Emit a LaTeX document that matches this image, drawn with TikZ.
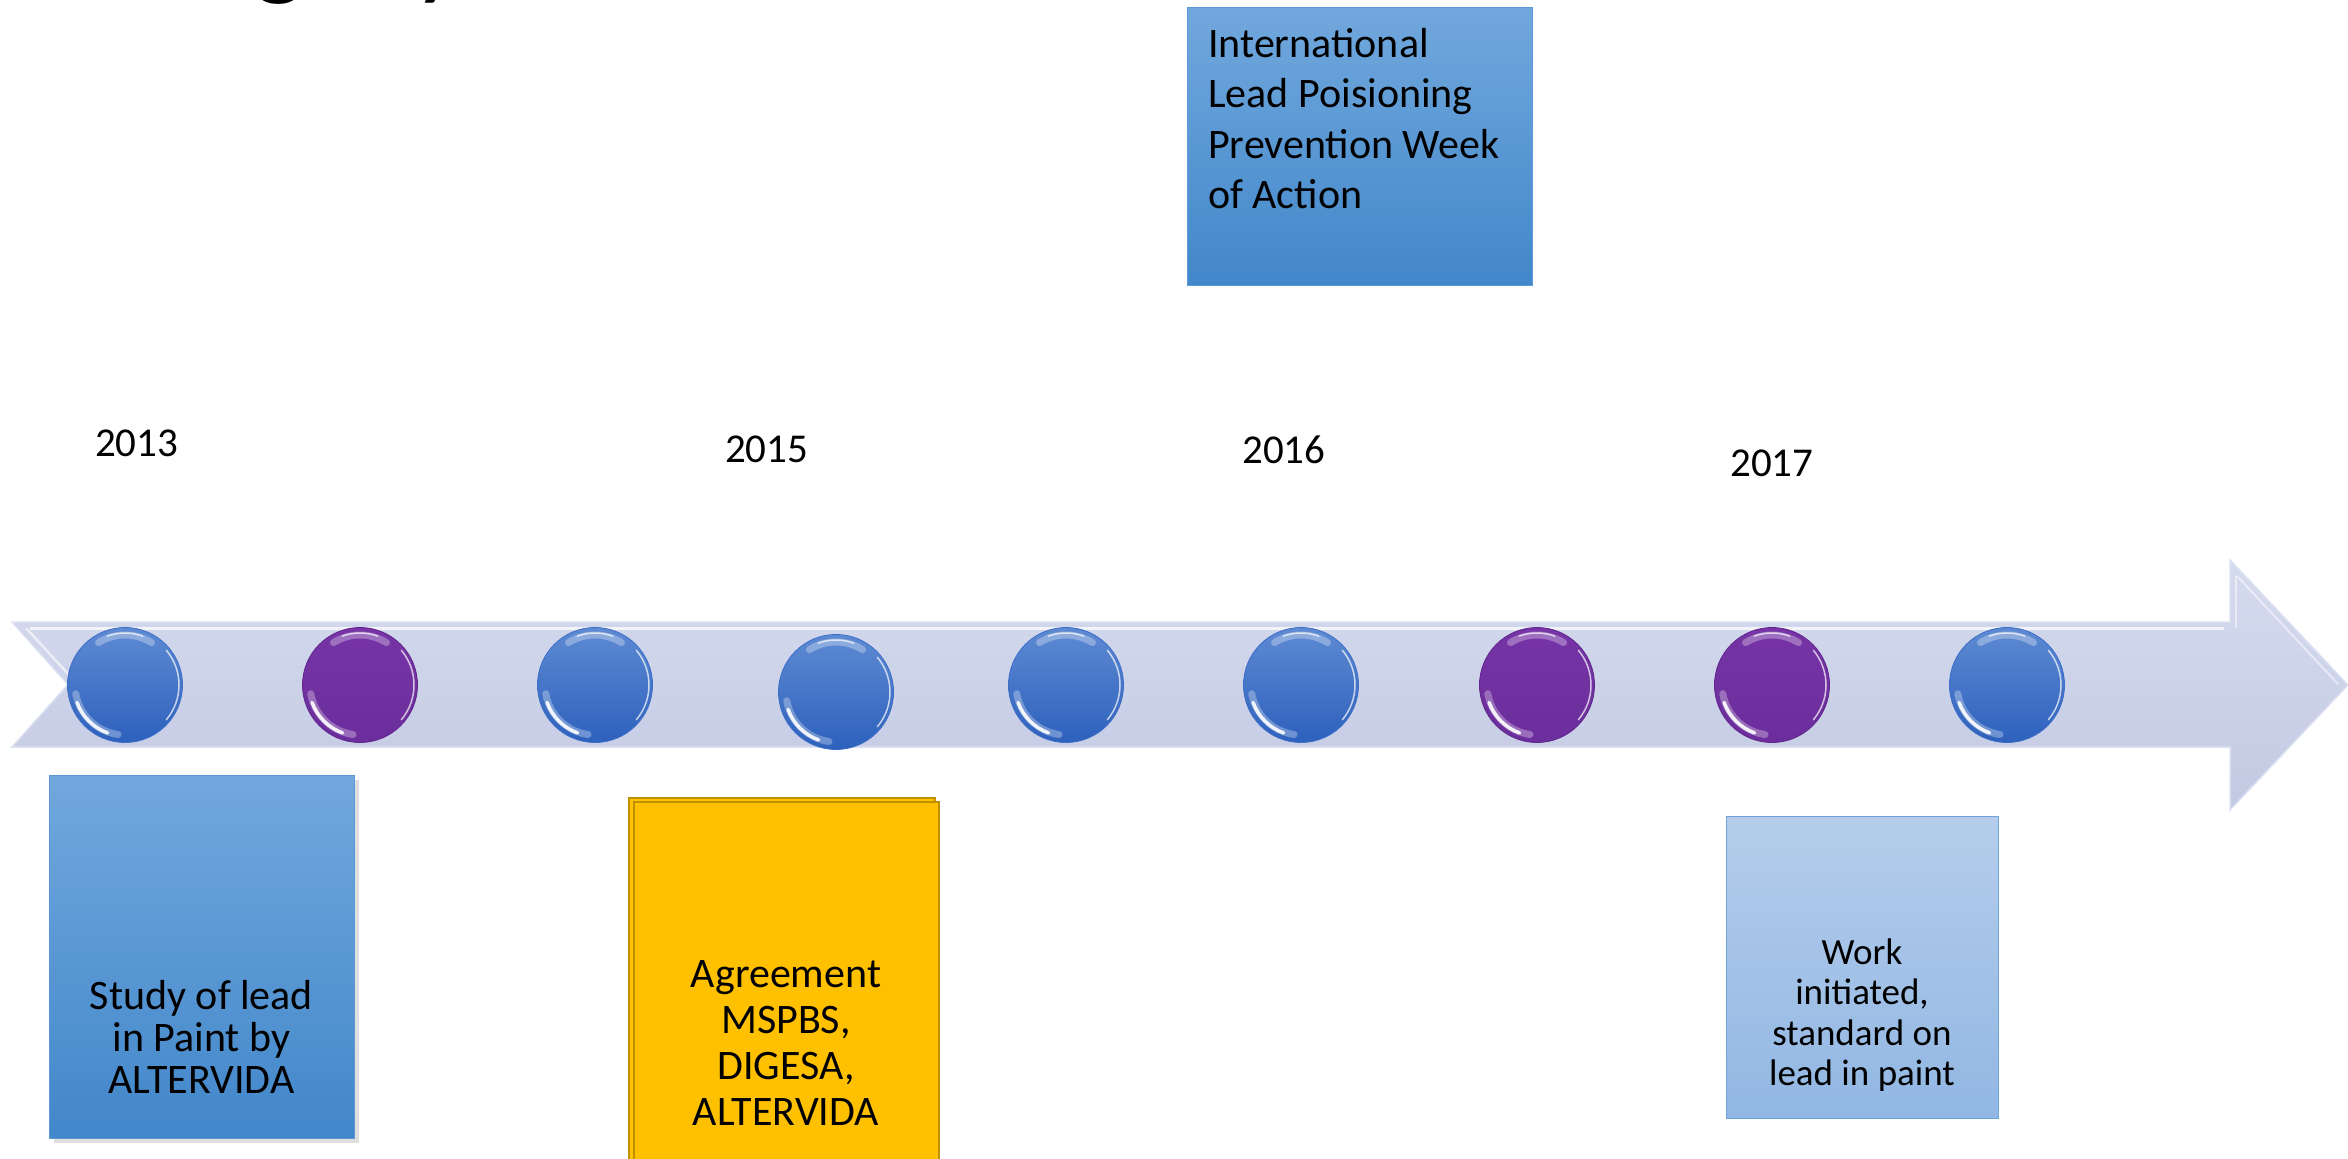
\documentclass[tikz,border=0pt]{standalone}
\usepackage{fontspec}
\setmainfont{Carlito}
\usetikzlibrary{shadows}
\definecolor{arrowtop}{RGB}{213,219,238}
\definecolor{arrowbot}{RGB}{195,201,226}
\definecolor{arrowedge}{RGB}{220,225,242}
\definecolor{beadbluetop}{RGB}{94,138,210}
\definecolor{beadbluebot}{RGB}{45,97,189}
\definecolor{beadblueedge}{RGB}{60,110,200}
\definecolor{beadpurptop}{RGB}{118,52,166}
\definecolor{beadpurpbot}{RGB}{108,46,156}
\definecolor{beadpurpedge}{RGB}{96,38,140}
\definecolor{midbluetop}{RGB}{113,168,221}
\definecolor{midbluebot}{RGB}{66,135,202}
\definecolor{midblueedge}{RGB}{91,155,213}
\definecolor{paletop}{RGB}{181,205,235}
\definecolor{palebot}{RGB}{145,183,227}
\definecolor{paleedge}{RGB}{111,164,219}
\definecolor{gold}{RGB}{255,192,0}
\definecolor{goldedge}{RGB}{191,144,0}
\newcommand\beadshine[1]{%
  \draw[shineA] ([shift={(58:50pt)}]#1.center) arc[start angle=58,end angle=122,radius=50pt];
  \draw[shineC] ([shift={(70:52pt)}]#1.center) arc[start angle=70,end angle=110,radius=52pt];
  \draw[shineA] ([shift={(190:50pt)}]#1.center) arc[start angle=190,end angle=262,radius=50pt];
  \draw[shineB] ([shift={(200:51pt)}]#1.center) arc[start angle=200,end angle=250,radius=51pt];
  \draw[shineC] ([shift={(-40:54pt)}]#1.center) arc[start angle=-40,end angle=40,radius=54pt];
}
\begin{document}
\begin{tikzpicture}[x=1pt,y=-1pt,
  bluebead/.style={circle, minimum size=115pt, inner sep=0pt, top color=beadbluetop, bottom color=beadbluebot, draw=beadblueedge, line width=0.8pt},
  purplebead/.style={circle, minimum size=115pt, inner sep=0pt, top color=beadpurptop, bottom color=beadpurpbot, draw=beadpurpedge, line width=0.8pt},
  shineA/.style={white, line width=7pt, line cap=round, opacity=0.3},
  shineB/.style={white, line width=3.5pt, line cap=round, opacity=0.9},
  shineC/.style={white, line width=1.5pt, line cap=round, opacity=0.7},
  yearlabel/.style={anchor=base west, inner sep=0pt, font=\fontsize{41}{49}\selectfont},
  midbox/.style={rectangle, anchor=north west, inner sep=0pt, top color=midbluetop, bottom color=midbluebot, draw=midblueedge, line width=1pt},
  palebox/.style={rectangle, anchor=north west, inner sep=0pt, top color=paletop, bottom color=palebot, draw=paleedge, line width=1.2pt},
  goldbox/.style={rectangle, anchor=north west, inner sep=0pt, fill=gold, draw=goldedge, line width=1.5pt},
  boxtext/.style={inner sep=0pt}
]
\useasboundingbox (0,0) rectangle (2348,1159);
\fill[white] (0,0) rectangle (2348,1159);

% partially visible title (only descenders show)
\node[anchor=base west, inner sep=0pt, font=\fontsize{110}{130}\selectfont] (title) at (57,-14) {Paraguay};

% timeline arrow
\shadedraw[top color=arrowtop, bottom color=arrowbot, draw=arrowedge, line width=1.5pt]
  (12,622) -- (2230,622) -- (2230,560) -- (2348,685) -- (2230,810) -- (2230,747) -- (12,747) -- (68,684.5) -- cycle;
\draw[white, opacity=0.75, line width=3pt] (30,628) -- (2224,628);
\draw[white, opacity=0.6, line width=2.5pt] (26,628) -- (70,676);
\draw[white, opacity=0.5, line width=2pt] (2236,576) -- (2236,628);
\draw[white, opacity=0.5, line width=2pt] (2237,576) -- (2338,684);

% beads
\node[bluebead]   (c1) at (125,685) {};
\node[purplebead] (c2) at (360,685) {};
\node[bluebead]   (c3) at (595,685) {};
\node[bluebead]   (c4) at (836,692) {};
\node[bluebead]   (c5) at (1066,685) {};
\node[bluebead]   (c6) at (1301,685) {};
\node[purplebead] (c7) at (1537,685) {};
\node[purplebead] (c8) at (1772,685) {};
\node[bluebead]   (c9) at (2007,685) {};
\beadshine{c1}\beadshine{c2}\beadshine{c3}\beadshine{c4}\beadshine{c5}
\beadshine{c6}\beadshine{c7}\beadshine{c8}\beadshine{c9}

% years
\node[yearlabel] (y2013) at (95,456) {2013};
\node[yearlabel] (y2015) at (725,462) {2015};
\node[yearlabel] (y2016) at (1242,463) {2016};
\node[yearlabel] (y2017) at (1730,476) {2017};

% box 1: study
\node[midbox, minimum width=305pt, minimum height=363pt,
      drop shadow={shadow xshift=4pt, shadow yshift=-4pt, opacity=0.25}] (b1) at (49,775) {};
\node[boxtext, anchor=base] (t1) at (201.5,1009)
  {\parbox[t]{300pt}{\centering\fontsize{42}{42}\selectfont Study of lead\\in Paint by\\ALTERVIDA}};

% box 2: agreement (stacked)
\node[goldbox, minimum width=306pt, minimum height=380pt] (b2back) at (628,797) {};
\node[goldbox, minimum width=305pt, minimum height=380pt] (b2) at (633,801) {};
\node[boxtext, anchor=base] (t2) at (786,987)
  {\parbox[t]{300pt}{\centering\fontsize{42}{46}\selectfont Agreement\\MSPBS,\\DIGESA,\\ALTERVIDA}};

% box 3: international week
\node[midbox, minimum width=345pt, minimum height=278pt] (b3) at (1187,7) {};
\node[boxtext, anchor=base west] (t3) at (1208,57)
  {\parbox[t]{330pt}{\raggedright\fontsize{42}{50.5}\selectfont International\\Lead Poisioning\\Prevention Week\\of Action}};

% box 4: work initiated
\node[palebox, minimum width=272pt, minimum height=302pt] (b4) at (1726,816) {};
\node[boxtext, anchor=base] (t4) at (1862,964)
  {\parbox[t]{270pt}{\centering\fontsize{37}{40.5}\selectfont Work\\initiated,\\standard on\\lead in paint}};
\end{tikzpicture}
\end{document}
